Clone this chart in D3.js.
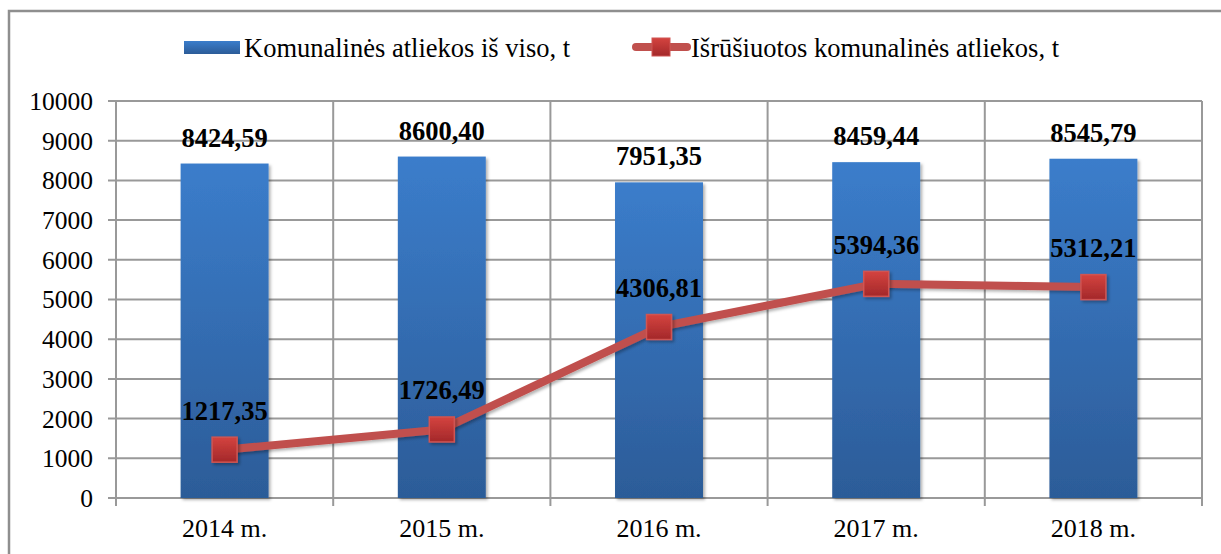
<!DOCTYPE html>
<html>
<head>
<meta charset="utf-8">
<script src="https://cdn.jsdelivr.net/npm/d3@7"></script>
<style>
  body { margin: 0; background: #fff; }
  text { font-family: "Liberation Serif", "Times New Roman", serif; }
</style>
</head>
<body>
<div id="chart"></div>
<script>
const years = ["2014 m.", "2015 m.", "2016 m.", "2017 m.", "2018 m."];
const totalWaste = [8424.59, 8600.40, 7951.35, 8459.44, 8545.79];
const sortedWaste = [1217.35, 1726.49, 4306.81, 5394.36, 5312.21];
const yTicks = [0, 1000, 2000, 3000, 4000, 5000, 6000, 7000, 8000, 9000, 10000];
const seriesNames = ["Komunalinės atliekos iš viso, t", "Išrūšiuotos komunalinės atliekos, t"];

const svgWidth = 1221;
const svgHeight = 554;
const margin = { top: 101, right: 19, bottom: 56, left: 116 };
const width = svgWidth - margin.left - margin.right;
const height = svgHeight - margin.top - margin.bottom;

const fmt = v => v.toFixed(2).replace(".", ",");

const svg = d3.select("#chart")
  .append("svg")
  .attr("width", svgWidth)
  .attr("height", svgHeight);

const defs = svg.append("defs");

const barGrad = defs.append("linearGradient")
  .attr("id", "barGrad").attr("x1", 0).attr("y1", 0).attr("x2", 0).attr("y2", 1);
barGrad.append("stop").attr("offset", "0%").attr("stop-color", "#3b7dcb");
barGrad.append("stop").attr("offset", "100%").attr("stop-color", "#2c5c98");

const markGrad = defs.append("linearGradient")
  .attr("id", "markGrad").attr("x1", 0).attr("y1", 0).attr("x2", 0).attr("y2", 1);
markGrad.append("stop").attr("offset", "0%").attr("stop-color", "#d4433f");
markGrad.append("stop").attr("offset", "100%").attr("stop-color", "#a3282a");

const shadow = defs.append("filter").attr("id", "shadow")
  .attr("x", "-20%").attr("y", "-20%").attr("width", "150%").attr("height", "150%");
shadow.append("feDropShadow")
  .attr("dx", 2).attr("dy", 2).attr("stdDeviation", 1.5)
  .attr("flood-color", "#000").attr("flood-opacity", 0.3);

// outer frame
svg.append("rect")
  .attr("x", 9).attr("y", 11)
  .attr("width", 1240).attr("height", 570)
  .attr("fill", "#fff")
  .attr("stroke", "#8f8f8f")
  .attr("stroke-width", 2.5);

const g = svg.append("g")
  .attr("transform", `translate(${margin.left},${margin.top})`);

const x = d3.scaleBand().domain(years).range([0, width]).padding(0);
const y = d3.scaleLinear().domain([0, 10000]).range([height, 0]);
const barW = x.bandwidth() * 0.405;

// horizontal gridlines + y ticks
g.selectAll(".hgrid")
  .data(yTicks)
  .join("line")
  .attr("x1", -8).attr("x2", width)
  .attr("y1", d => y(d)).attr("y2", d => y(d))
  .attr("stroke", "#999").attr("stroke-width", 2);

// vertical gridlines at category boundaries
const bounds = years.map(d => x(d)).concat([width]);
g.selectAll(".vgrid")
  .data(bounds)
  .join("line")
  .attr("x1", d => d).attr("x2", d => d)
  .attr("y1", 0).attr("y2", height + 8)
  .attr("stroke", "#999").attr("stroke-width", 2);

// y tick labels
g.selectAll(".ylab")
  .data(yTicks)
  .join("text")
  .attr("x", -23)
  .attr("y", d => y(d))
  .attr("dy", "0.35em")
  .attr("text-anchor", "end")
  .attr("font-size", 25.5)
  .attr("fill", "#000")
  .text(d => d);

// x labels
g.selectAll(".xlab")
  .data(years)
  .join("text")
  .attr("x", d => x(d) + x.bandwidth() / 2)
  .attr("y", height + 39)
  .attr("text-anchor", "middle")
  .attr("font-size", 26)
  .attr("fill", "#000")
  .text(d => d);

// bars
g.selectAll(".bar")
  .data(totalWaste)
  .join("rect")
  .attr("x", (d, i) => x(years[i]) + (x.bandwidth() - barW) / 2)
  .attr("y", d => y(d))
  .attr("width", barW)
  .attr("height", d => height - y(d))
  .attr("fill", "url(#barGrad)")
  .attr("filter", "url(#shadow)");

// bar labels
g.selectAll(".barlab")
  .data(totalWaste)
  .join("text")
  .attr("x", (d, i) => x(years[i]) + x.bandwidth() / 2)
  .attr("y", d => y(d) - 17)
  .attr("text-anchor", "middle")
  .attr("font-size", 26.5)
  .attr("font-weight", "bold")
  .attr("fill", "#000")
  .text(fmt);

// line
const line = d3.line()
  .x((d, i) => x(years[i]) + x.bandwidth() / 2)
  .y(d => y(d));

g.append("path")
  .datum(sortedWaste)
  .attr("d", line)
  .attr("fill", "none")
  .attr("stroke", "#c0504d")
  .attr("stroke-width", 8)
  .attr("stroke-linejoin", "round")
  .attr("filter", "url(#shadow)");

const mSize = 25;
g.selectAll(".marker")
  .data(sortedWaste)
  .join("rect")
  .attr("x", (d, i) => x(years[i]) + x.bandwidth() / 2 - mSize / 2)
  .attr("y", d => y(d) - mSize / 2)
  .attr("width", mSize).attr("height", mSize)
  .attr("fill", "url(#markGrad)")
  .attr("stroke", "#cf5552")
  .attr("stroke-width", 1.5)
  .attr("filter", "url(#shadow)");

g.selectAll(".linelab")
  .data(sortedWaste)
  .join("text")
  .attr("x", (d, i) => x(years[i]) + x.bandwidth() / 2)
  .attr("y", d => y(d) - 30)
  .attr("text-anchor", "middle")
  .attr("font-size", 26.5)
  .attr("font-weight", "bold")
  .attr("fill", "#000")
  .text(fmt);

// legend
const legend = svg.append("g");
legend.append("rect")
  .attr("x", 184).attr("y", 41)
  .attr("width", 56).attr("height", 13)
  .attr("fill", "url(#barGrad)");
legend.append("text")
  .attr("x", 244).attr("y", 57)
  .attr("font-size", 26.5)
  .attr("fill", "#000")
  .text(seriesNames[0]);

legend.append("line")
  .attr("x1", 636).attr("x2", 687)
  .attr("y1", 47).attr("y2", 47)
  .attr("stroke", "#c0504d")
  .attr("stroke-width", 8)
  .attr("stroke-linecap", "round");
legend.append("rect")
  .attr("x", 652).attr("y", 38)
  .attr("width", 18).attr("height", 18)
  .attr("fill", "url(#markGrad)")
  .attr("stroke", "#cf5552")
  .attr("stroke-width", 1);
legend.append("text")
  .attr("x", 691).attr("y", 57)
  .attr("font-size", 26.5)
  .attr("fill", "#000")
  .text(seriesNames[1]);
</script>
</body>
</html>
